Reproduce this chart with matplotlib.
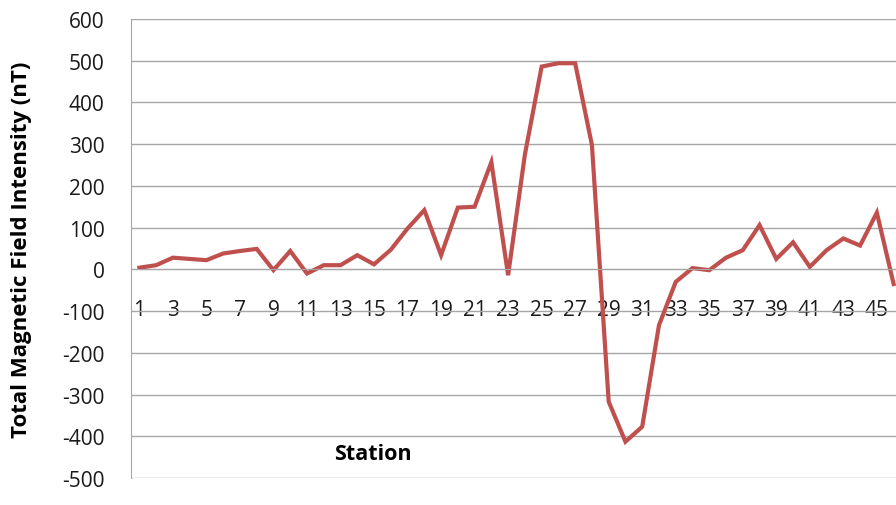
import numpy as np
import matplotlib
matplotlib.use('Agg')
import matplotlib.pyplot as plt

# station numbers and total magnetic field readings (nT)
stations = list(range(1, 47))
intensity = [4, 10, 28, 25, 22, 38, 44, 49, -2, 44,
             -10, 10, 10, 34, 12, 47, 98, 142, 34, 148,
             150, 257, -14, 275, 486, 494, 494, 298, -317, -413,
             -377, -134, -30, 3, -2, 28, 46, 106, 25, 65,
             6, 46, 74, 57, 136, -35]
tick_stations = list(range(1, 47, 2))
y_ticks = list(range(-500, 601, 100))

plt.rcParams['font.family'] = ['Open Sans', 'DejaVu Sans']
plt.rcParams['axes.unicode_minus'] = False

fig = plt.figure(figsize=(8.96, 5.06), dpi=100)
# plot area runs past the right edge of the picture, like the cropped original
ax = fig.add_axes([131 / 896, 1 - 479 / 506, 771 / 896, 459 / 506])

ax.plot(stations, intensity, color='#C0504D', linewidth=3.0, solid_joinstyle='miter')

ax.set_xlim(0.5, len(stations) + 0.5)
ax.set_ylim(-500, 600)
ax.set_yticks(y_ticks)
ax.set_xticks(tick_stations)
ax.set_xticklabels([str(s) for s in tick_stations])

grid_col = '#A6A6A6'
ax.yaxis.grid(True, color=grid_col, linewidth=1.0)
ax.set_axisbelow(True)

ax.spines['top'].set_visible(False)
ax.spines['right'].set_visible(False)
ax.spines['left'].set_color(grid_col)
ax.spines['bottom'].set_position(('data', 0))
ax.spines['bottom'].set_color(grid_col)

ax.tick_params(axis='y', length=0, pad=19, labelsize=15, labelcolor='#1a1a1a')
ax.tick_params(axis='x', length=0, pad=21, labelsize=15, labelcolor='#1a1a1a')

ax.set_ylabel('Total Magnetic Field Intensity (nT)', fontsize=16, fontweight='bold')
ax.yaxis.set_label_coords(-(131 - 32) / 771, 0.5)
ax.set_xlabel('Station', fontsize=15.5, fontweight='bold', va='center')
ax.xaxis.set_label_coords((373 - 131) / 771, (479 - 455) / 459)

fig.savefig('out.png', dpi=100)
